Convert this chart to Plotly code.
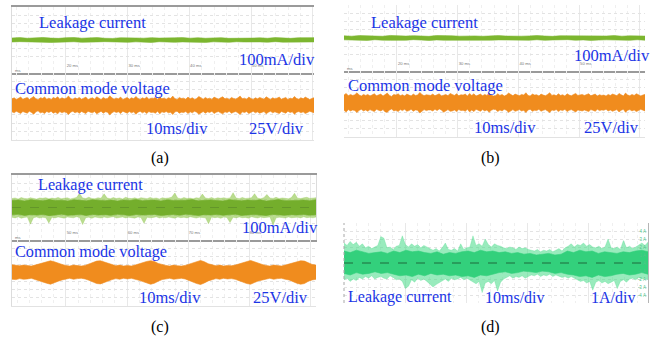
import numpy as np
import plotly.graph_objects as go

W, H = 664, 341

# ---------------- data ----------------
# (a) leakage current envelope, mA  (100 mA/div)
a_leak_up = [24, 29, 21, 27, 31, 23, 20, 28, 30, 22, 26, 29, 21, 19, 27, 30, 24, 22, 28, 23,
             20, 26, 29, 22, 27, 21, 25, 28, 20, 24, 28, 23, 26, 21, 29, 25, 20, 27, 24, 28]
a_leak_lo = [-24, -20, -28, -23, -27, -30, -22, -26, -21, -28, -29, -23, -20, -27, -24, -28, -22, -26, -30, -21,
             -25, -28, -23, -20, -27, -29, -22, -25, -28, -21, -24, -28, -23, -27, -20, -26, -29, -22, -25, -23]
# (a) common mode voltage envelope, V (25 V/div)
a_cmv_up = [23, 26, 21, 25, 28, 22, 24, 27, 21, 25, 30, 23, 20, 26, 24, 28, 22, 25, 21, 27,
            24, 29, 22, 26, 23, 25, 31, 24, 21, 26, 23, 27, 22, 25, 28, 21, 24, 26, 22, 29,
            25, 21, 27, 23, 24, 32, 26, 22, 25, 23, 28, 21, 24, 27, 22, 26, 23, 30, 24, 21,
            26, 23, 28, 22, 25, 24, 27, 21, 29, 23, 25, 22, 26, 24, 31, 23, 21, 27, 24, 25,
            22, 28, 23, 26, 21, 24, 30, 25, 22, 27, 23, 25, 21, 28, 24, 22, 26, 29, 23, 25,
            21, 27, 24, 22, 26, 31, 23, 25, 22, 28, 24, 21, 26, 23, 27, 25, 22, 29, 24, 21,
            26, 23, 25, 28, 22, 24, 27, 21, 25, 23, 30, 24, 22, 26, 23, 28, 25, 21, 24, 26]
a_cmv_lo = [-16, -19, -14, -18, -21, -15, -17, -20, -14, -18, -23, -16, -13, -19, -17, -21, -15, -18, -14, -20,
            -17, -22, -15, -19, -16, -18, -24, -17, -14, -19, -16, -20, -15, -18, -21, -14, -17, -19, -15, -22,
            -18, -14, -20, -16, -17, -25, -19, -15, -18, -16, -21, -14, -17, -20, -15, -19, -16, -23, -17, -14,
            -19, -16, -21, -15, -18, -17, -20, -14, -22, -16, -18, -15, -19, -17, -24, -16, -14, -20, -17, -18,
            -15, -21, -16, -19, -14, -17, -23, -18, -15, -20, -16, -18, -14, -21, -17, -15, -19, -22, -16, -18,
            -14, -20, -17, -15, -19, -24, -16, -18, -15, -21, -17, -14, -19, -16, -20, -18, -15, -22, -17, -14,
            -19, -16, -18, -21, -15, -17, -20, -14, -18, -16, -23, -17, -15, -19, -16, -21, -18, -14, -17, -19]

# (b)
b_leak_up = [26, 22, 29, 24, 27, 21, 31, 25, 23, 28, 27, 20, 30, 24, 26, 22, 28, 25, 21, 27,
             29, 23, 27, 22, 25, 30, 24, 20, 27, 26, 23, 28, 21, 27, 24, 29, 22, 26, 28, 23]
b_leak_lo = [-22, -27, -24, -29, -21, -26, -28, -23, -27, -20, -25, -30, -23, -27, -22, -28, -24, -21, -27, -26,
             -23, -29, -22, -25, -27, -21, -28, -24, -26, -20, -27, -23, -29, -25, -22, -27, -24, -28, -21, -26]
b_cmv_up = [27, 32, 25, 29, 26, 28, 34, 27, 24, 29, 26, 29, 24, 28, 31, 25, 27, 30, 24, 28,
            33, 26, 23, 29, 27, 31, 25, 28, 24, 30, 28, 24, 30, 26, 27, 35, 29, 25, 28, 26,
            26, 30, 25, 28, 31, 24, 27, 29, 25, 32, 29, 26, 31, 25, 28, 27, 30, 24, 32, 26,
            31, 24, 27, 30, 25, 29, 26, 33, 27, 24, 25, 31, 26, 29, 24, 27, 33, 28, 25, 30,
            28, 25, 29, 27, 34, 26, 24, 30, 27, 28, 24, 30, 27, 25, 29, 34, 26, 28, 25, 31,
            26, 28, 24, 31, 27, 25, 29, 32, 26, 28, 29, 26, 28, 31, 25, 27, 30, 24, 28, 26,
            27, 24, 29, 26, 30, 28, 25, 32, 27, 24, 33, 27, 25, 29, 26, 31, 28, 24, 27, 29]
b_cmv_lo = [-19, -24, -17, -21, -18, -20, -26, -19, -16, -21, -18, -22, -17, -20, -23, -16, -19, -21, -17, -24,
            -25, -18, -15, -21, -19, -23, -17, -20, -16, -22, -20, -16, -22, -18, -19, -27, -21, -17, -20, -18,
            -18, -21, -16, -20, -15, -18, -25, -20, -17, -22, -21, -18, -23, -17, -20, -19, -22, -16, -24, -18,
            -23, -16, -19, -22, -17, -21, -18, -25, -19, -16, -17, -23, -18, -21, -16, -19, -25, -20, -17, -22,
            -20, -17, -21, -19, -26, -18, -16, -22, -19, -20, -16, -22, -19, -17, -21, -26, -18, -20, -17, -23,
            -18, -20, -16, -23, -19, -17, -21, -24, -18, -20, -21, -18, -20, -23, -17, -19, -22, -16, -20, -18,
            -19, -16, -21, -18, -22, -20, -17, -24, -19, -16, -25, -19, -17, -21, -18, -23, -20, -16, -19, -21]

# (c) leakage current, outer (spiky) and core envelopes, mA
c_leak_out_up = [110, 118, 105, 122, 112, 108, 120, 115, 104, 117,
                 113, 121, 107, 116, 110, 124, 109, 114, 119, 106,
                 115, 123, 172, 118, 110, 126, 112, 108, 120, 114,
                 168, 116, 109, 122, 111, 118, 106, 125, 113, 110,
                 119, 107, 121, 114, 109, 124, 112, 117, 105, 120,
                 113, 118, 126, 178, 115, 109, 122, 111, 116, 107,
                 120, 114, 165, 117, 110, 123, 108, 119, 113, 121,
                 112, 118, 182, 116, 109, 124, 111, 115, 120, 170,
                 114, 108, 121, 160, 117, 112, 125, 110, 118, 113,
                 107, 122, 175, 115, 110, 119, 126, 112, 117, 121]
c_leak_out_lo = [-120, -128, -115, -132, -122, -118, -205, -125, -117, -130,
                 -121, -126, -190, -119, -129, -116, -124, -131, -118, -123,
                 -127, -115, -122, -210, -125, -119, -133, -117, -124, -129,
                 -118, -126, -121, -114, -130, -123, -117, -128, -120, -125,
                 -131, -116, -124, -195, -119, -127, -122, -115, -129, -121,
                 -126, -118, -123, -132, -117, -125, -120, -128, -114, -124,
                 -130, -119, -122, -127, -200, -116, -125, -121, -133, -118,
                 -124, -185, -120, -128, -117, -126, -122, -131, -115, -123,
                 -129, -118, -125, -121, -116, -215, -127, -120, -124, -130,
                 -117, -126, -122, -119, -128, -115, -125, -121, -127, -118]
c_leak_core_up = [86, 92, 80, 95, 88, 83, 97, 85, 90, 81, 94, 87, 82, 96, 89, 84, 91, 79, 93, 86,
                  98, 83, 88, 92, 80, 95, 87, 84, 90, 97, 82, 89, 93, 85, 81, 96, 88, 83, 91, 86,
                  94, 80, 89, 97, 84, 90, 87, 92, 82, 95]
c_leak_core_lo = [-90, -84, -97, -88, -93, -86, -100, -89, -83, -95, -91, -87, -98, -85, -92, -88, -96, -84, -90, -99,
                  -86, -93, -89, -85, -97, -91, -87, -94, -83, -90, -98, -88, -92, -86, -95, -89, -84, -97, -91, -87,
                  -93, -99, -85, -90, -96, -88, -92, -86, -94, -89]
# (c) common mode voltage (modulated), V
c_cmv_up = [25, 23, 22, 24, 23, 21, 24,
            27, 31, 35, 37, 34, 29, 26, 23, 21, 24, 22, 21, 23,
            27, 32, 36, 37, 33, 28, 25, 22, 24, 21, 23, 21, 24,
            28, 31, 35, 37, 35, 29, 25, 23, 21, 24, 22, 21, 23,
            27, 31, 36, 38, 34, 28, 25, 22, 24, 21, 23, 22, 24,
            28, 32, 36, 38, 34, 29, 26, 23, 21, 24, 22, 21, 24,
            27, 30, 35, 37, 36, 30, 26, 24]
c_cmv_lo = [-19, -20, -17, -19, -18, -16, -19,
            -22, -27, -31, -34, -30, -25, -21, -18, -16, -19, -17, -16, -18,
            -22, -26, -32, -33, -29, -24, -20, -17, -19, -16, -18, -16, -19,
            -22, -26, -31, -34, -31, -25, -20, -18, -16, -19, -17, -16, -18,
            -21, -27, -32, -35, -30, -24, -20, -17, -19, -16, -18, -17, -19,
            -22, -27, -32, -34, -29, -24, -21, -18, -16, -19, -17, -16, -19,
            -21, -26, -31, -34, -32, -25, -21, -19]

# (d) leakage current, A (1 A/div)
d_out_up = [2.5, 2.2, 2.7, 2.3, 2.6, 2.1, 2.4,
            1.9, 2.1, 1.8, 2.0, 2.2, 3.3, 3.1, 1.9, 2.0, 1.7, 2.1,
            2.2, 3.4, 2.3, 2.0, 2.4, 2.1, 2.3, 1.9, 2.2, 2.0, 1.8,
            1.6, 1.8, 1.5, 1.9, 2.5, 1.7, 1.6, 1.8, 1.5, 2.4, 1.7, 1.9, 2.0,
            3.4, 2.2, 2.4, 2.1, 3.0, 2.3, 2.0, 2.4, 2.2, 2.1, 1.9,
            1.8, 2.0, 1.9, 1.7, 2.0, 1.8, 1.9, 1.7, 1.6,
            1.5, 1.7, 1.4, 1.6, 1.5, 1.7, 1.4, 1.6, 1.8, 1.5, 1.9,
            2.1, 2.4, 2.0, 2.3, 2.2, 2.5, 2.1, 2.3, 2.0, 1.9, 2.1,
            1.8, 2.0, 3.0, 1.9, 1.8, 2.0, 1.7, 2.8, 1.9, 2.1, 1.8, 2.0,
            2.3, 2.5, 2.2, 2.6]
d_out_lo = [-2.1, -1.9, -2.3, -2.0, -2.2, -1.8, -2.0,
            -1.7, -1.9, -1.6, -2.0, -1.8, -1.7, -1.9, -2.0, -1.6, -1.8, -2.1,
            -2.0, -2.3, -3.2, -2.9, -2.1, -2.4, -1.9, -2.2, -2.0, -2.3, -2.6,
            -3.0, -2.7, -2.4, -2.2, -2.0, -2.3, -1.9, -2.1, -2.0, -1.8, -2.1, -1.9, -2.2,
            -2.4, -2.6, -2.3, -3.7, -2.5, -2.3, -2.6, -2.2, -3.5, -2.4, -2.0,
            -1.8, -1.6, -1.9, -1.7, -1.8, -1.6, -1.9, -1.7, -1.5,
            -1.6, -1.4, -1.7, -1.5, -1.6, -1.4, -1.7, -1.5, -1.6, -1.8, -1.7,
            -1.9, -1.7, -1.8, -2.1, -2.3, -2.2, -2.5, -2.3, -3.4, -2.4, -2.2,
            -2.5, -2.3, -2.6, -2.4, -2.2, -3.2, -2.3, -2.1, -2.4, -2.0, -1.9, -2.1,
            -1.8, -2.0, -1.9, -2.1]
d_core_up = [1.5, 1.3, 1.6, 1.4, 1.2, 1.3, 1.4, 1.2, 1.5, 1.3, 1.6, 1.4, 1.5, 1.3, 1.2, 1.4, 1.1, 1.3, 1.2, 1.4,
             1.5, 1.3, 1.6, 1.4, 1.5, 1.3, 1.4, 1.2, 1.3, 1.1, 1.2, 1.0, 1.1, 1.2, 1.0, 1.1, 1.5, 1.3, 1.6, 1.4,
             1.5, 1.2, 1.4, 1.3, 1.2, 1.4, 1.3, 1.5, 1.6, 1.4]
d_core_lo = [-1.3, -1.5, -1.2, -1.4, -1.3, -1.1, -1.3, -1.2, -1.4, -1.6, -1.5, -1.7, -1.4, -1.6, -1.3, -1.5, -1.4, -1.6, -1.5, -1.7,
             -1.6, -1.8, -1.5, -1.6, -1.4, -1.2, -1.1, -1.3, -1.2, -1.0, -1.1, -1.2, -1.0, -1.1, -1.3, -1.2, -1.4, -1.5, -1.7, -1.6,
             -1.8, -1.5, -1.7, -1.6, -1.4, -1.3, -1.5, -1.4, -1.2, -1.4]

# time windows (ms) and tick labels
a_xr = [11.25, 60.2]
b_xr = [11.27, 60.86]
c_xr = [41.15, 90.98]
d_xr = [0, 49.8]
ab_tickvals = [10, 20, 30, 40, 50, 60]
ab_ticktext = ["10 ms", "20 ms", "30 ms", "40 ms", "50 ms", "60 ms"]
c_tickvals = [40, 50, 60, 70, 80, 90]
c_ticktext = ["40 ms", "50 ms", "60 ms", "70 ms", "80 ms", "90 ms"]
d_ytickvals = [-4, -3, -2, -1, 0, 1, 2, 3, 4]
d_yticktext = ["-4 A", "-3 A", "-2 A", "-1 A", "0 A", "1 A", "2 A", "3 A", "4 A"]

# ---------------- colours ----------------
BLUE = "#1b35e6"
GREEN_A = "#7cb62f"
ORANGE = "#f08c1e"
GREEN_C = "#74ae2c"
GREEN_C_OUT = "rgba(140,196,70,0.6)"
GREEN_D = "#33d07c"
GREEN_D_OUT = "rgba(70,218,135,0.55)"
SERIF = '"Liberation Serif", "Times New Roman", Times, serif'

fig = go.Figure()


def sfx(n):
    return "" if n == 1 else str(n)


def band(n, xr, up, lo, color, lw=0.6):
    tu = np.linspace(xr[0], xr[1], len(up))
    tl = np.linspace(xr[0], xr[1], len(lo))
    x = np.concatenate([tu, tl[::-1]])
    y = np.concatenate([np.asarray(up, float), np.asarray(lo, float)[::-1]])
    fig.add_trace(go.Scatter(x=x, y=y, mode="lines", fill="toself", fillcolor=color,
                             line=dict(color=color, width=lw),
                             xaxis="x" + sfx(n), yaxis="y" + sfx(n),
                             hoverinfo="skip", showlegend=False))


band(1, a_xr, a_leak_up, a_leak_lo, GREEN_A)
band(2, a_xr, a_cmv_up, a_cmv_lo, ORANGE)
band(3, b_xr, b_leak_up, b_leak_lo, GREEN_A)
band(4, b_xr, b_cmv_up, b_cmv_lo, ORANGE)
band(5, c_xr, c_leak_out_up, c_leak_out_lo, GREEN_C_OUT, lw=0.5)
band(5, c_xr, c_leak_core_up, c_leak_core_lo, GREEN_C)
band(6, c_xr, c_cmv_up, c_cmv_lo, ORANGE)
band(7, d_xr, d_out_up, d_out_lo, GREEN_D_OUT, lw=0.5)
band(7, d_xr, d_core_up, d_core_lo, GREEN_D)

GRID = "#e8e8e8"
MINOR = "#efefef"
YGRID = "#e3e3e3"


def axes(n, xbox, ybox, xr, yr, ydt, line_color="#9a9a9a", line_w=1.5, show_xline=True,
         mirror=False, tickvals=None, ticktext=None, yline=False, ymirror=False):
    xd = dict(domain=[xbox[0] / W, xbox[1] / W], range=xr, anchor="y" + sfx(n),
              showline=show_xline, linecolor=line_color, linewidth=line_w, mirror=mirror,
              showgrid=True, gridcolor=GRID, gridwidth=1, zeroline=False,
              ticks="", fixedrange=True,
              minor=dict(tickmode="linear", tick0=0, dtick=2, showgrid=True,
                         gridcolor=MINOR, griddash="dot", gridwidth=1))
    if tickvals is not None:
        xd.update(tickmode="array", tickvals=tickvals, ticktext=ticktext, showticklabels=True,
                  ticklabelposition="inside right",
                  tickfont=dict(size=4.2, color="#777777", family="Liberation Sans"))
    else:
        xd.update(tickmode="linear", tick0=0, dtick=10, showticklabels=False)
    yd = dict(domain=[1 - ybox[1] / H, 1 - ybox[0] / H], range=yr, anchor="x" + sfx(n),
              showgrid=True, gridcolor=YGRID, griddash="dot", tickmode="linear", tick0=0, dtick=ydt,
              showticklabels=False, zeroline=False, ticks="", fixedrange=True,
              showline=yline, linecolor="#dcdcdc", linewidth=1, mirror=ymirror)
    fig.update_layout(**{"xaxis" + sfx(n): xd, "yaxis" + sfx(n): yd})


# panel (a)
axes(1, [12, 314], [7, 73], a_xr, [-400, 400], 100, mirror=True,
     tickvals=ab_tickvals, ticktext=ab_ticktext, yline=True)
axes(2, [12, 314], [73, 140], a_xr, [-100, 100], 25, line_color="#e2e2e2", line_w=1, yline=True)
# panel (b)
axes(3, [344, 645], [5, 71], b_xr, [-400, 400], 100, line_w=2,
     tickvals=ab_tickvals, ticktext=ab_ticktext)
axes(4, [344, 645], [71, 137], b_xr, [-100, 100], 25, line_color="#e2e2e2", line_w=1)
# panel (c)
axes(5, [12, 316], [175, 240], c_xr, [-400, 400], 100, mirror=True,
     tickvals=c_tickvals, ticktext=c_ticktext, yline=True, ymirror=True)
axes(6, [12, 316], [240, 306], c_xr, [-100, 100], 25, line_color="#e2e2e2", line_w=1,
     yline=True)
# panel (d)
axes(7, [344, 648], [223, 303], d_xr, [-5, 5], 1, show_xline=False)
fig.update_layout(yaxis7=dict(side="right", showline=True, linecolor="#b5b5b5", linewidth=1,
                              tickmode="array", tickvals=d_ytickvals, ticktext=d_yticktext,
                              showticklabels=True, ticklabelposition="inside",
                              tickfont=dict(size=4.5, color="#52c48a", family="Liberation Sans")))

# dashed reference lines
shapes = [
    dict(type="line", xref="x7 domain", yref="y7 domain", x0=0, x1=0, y0=0, y1=1,
         line=dict(color="#a8a8a8", width=1, dash="dot"), layer="above"),
    dict(type="line", xref="x7 domain", yref="y7", x0=0, x1=1, y0=0, y1=0,
         line=dict(color="#1e6b3c", width=1, dash="dash"), layer="above"),
    dict(type="line", xref="x5 domain", yref="y5", x0=0, x1=1, y0=0, y1=0,
         line=dict(color="#5e8f2a", width=0.8, dash="dash"), layer="above"),
]


def ann(text, x, y, size=16.5, color=BLUE, xanchor="left"):
    return dict(text=text, x=x / W, y=1 - y / H, xref="paper", yref="paper",
                xanchor=xanchor, yanchor="middle", showarrow=False,
                font=dict(family=SERIF, size=size, color=color))


def small(text, x, y):
    return dict(text=text, x=x / W, y=1 - y / H, xref="paper", yref="paper", xanchor="left",
                yanchor="middle", showarrow=False,
                font=dict(size=4.2, color="#777777", family="Liberation Sans"))


annotations = [
    ann("Leakage current", 37, 23), ann("100mA/div", 237, 59),
    ann("Common mode voltage", 13, 88), ann("10ms/div", 144, 128), ann("25V/div", 247, 128),
    ann("Leakage current", 369, 23), ann("100mA/div", 572, 56),
    ann("Common mode voltage", 346, 85), ann("10ms/div", 472, 127), ann("25V/div", 582, 127),
    ann("Leakage current", 36, 185, size=16.2), ann("100mA/div", 240, 227),
    ann("Common mode voltage", 13, 252, size=16.2), ann("10ms/div", 137, 297), ann("25V/div", 251, 297),
    ann("Leakage current", 346, 297, size=16), ann("10ms/div", 483, 297, size=16),
    ann("1A/div", 589, 297, size=16),
    ann("(a)", 160, 158, size=16, color="black", xanchor="center"),
    ann("(b)", 490, 158, size=16, color="black", xanchor="center"),
    ann("(c)", 160, 327, size=16, color="black", xanchor="center"),
    ann("(d)", 490, 327, size=16, color="black", xanchor="center"),
    small("ms", 13, 70), small("ms", 345, 68), small("ms", 13, 237),
]

fig.update_layout(width=W, height=H, autosize=False, margin=dict(l=0, r=0, t=0, b=0, pad=0),
                  paper_bgcolor="white", plot_bgcolor="white", showlegend=False,
                  hovermode=False, shapes=shapes, annotations=annotations)

fig.write_html("out.html", config={"displayModeBar": False})
